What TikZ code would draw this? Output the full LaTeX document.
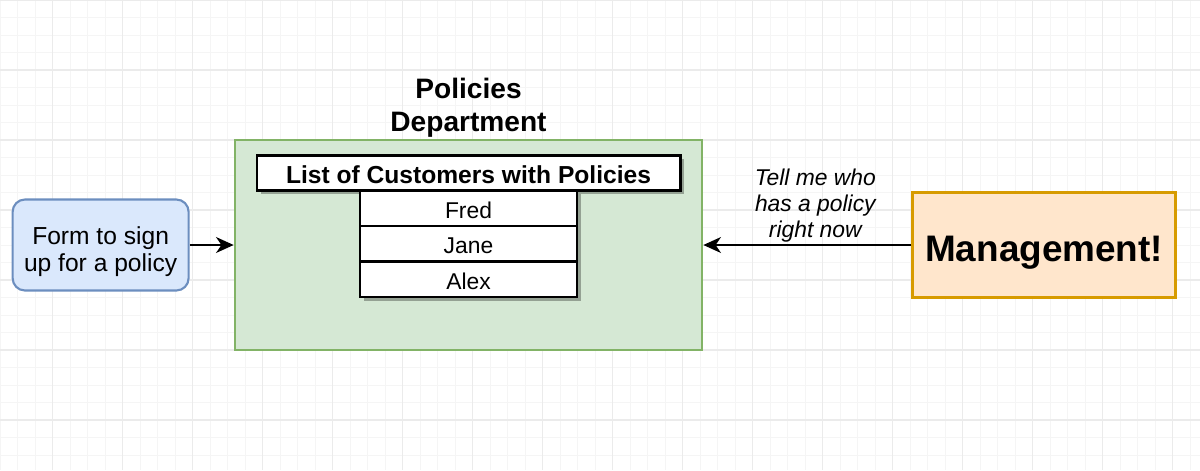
\documentclass[tikz,border=0pt]{standalone}
\usepackage{fontspec}
\setmainfont{Liberation Sans}
\usetikzlibrary{positioning, arrows.meta, shadows}

\definecolor{deptfill}{HTML}{D5E8D4}
\definecolor{deptline}{HTML}{82B366}
\definecolor{formfill}{HTML}{DAE8FC}
\definecolor{formline}{HTML}{6C8EBF}
\definecolor{mgmtfill}{HTML}{FFE6CC}
\definecolor{mgmtline}{HTML}{D79B00}

\begin{document}
\begin{tikzpicture}[auto, node distance=1cm, >={Stealth[length=10pt, width=9pt, inset=3pt]},
    row/.style={draw, line width=1.4pt, fill=white, outer sep=0pt, inner sep=0pt,
        minimum width=4.34cm, minimum height=0.71cm, text height=11.3pt, text depth=0pt,
        font=\fontsize{13}{15}\selectfont,
        drop shadow={shadow xshift=2pt, shadow yshift=-2pt, fill=black, opacity=0.3}},
    flow/.style={->, line width=1.2pt}]
    \useasboundingbox (0,0) rectangle (24,-9.4);
    % Grid
    \fill [white] (0,0) rectangle (24,-9.4);
    \draw [black!4, line width=0.5pt] (0,0) grid [step=0.35] (24,-9.4);
    \foreach \x in {1.05,2.45,...,23.5}
        \draw [black!8, line width=0.6pt] (\x,0) -- (\x,-9.4);
    \foreach \y in {0,-1.4,...,-9.3}
        \draw [black!8, line width=0.6pt] (0,\y) -- (24,\y);

    % Policies department
    \node [draw=deptline, fill=deptfill, line width=1.5pt, minimum width=9.34cm, minimum height=4.2cm] (dept) at (9.37,-4.9) {};
    \node [above=0.02cm of dept, inner sep=0pt, align=center, font=\bfseries\fontsize{16}{18.7}\selectfont] (title) {Policies\\Department};

    % List of customers
    \node [row, line width=1.7pt, minimum width=8.46cm, minimum height=0.7cm, text height=11.2pt, font=\bfseries\fontsize{14}{16}\selectfont, below=0.34cm of dept.north] (list) {List of Customers with Policies};
    \node [row, below=0cm of list] (fred) {Fred};
    \node [row, below=0cm of fred] (jane) {Jane};
    \node [row, below=0cm of jane] (alex) {Alex};

    % Form and management
    \node [draw=formline, fill=formfill, line width=1.2pt, rounded corners=7pt, minimum width=3.52cm, minimum height=1.82cm, align=center, font=\fontsize{14}{15.6}\selectfont, left=0.88cm of dept] (form) {\rule{0pt}{18pt}Form to sign\\up for a policy};
    \node [draw=mgmtline, fill=mgmtfill, line width=1.5pt, minimum width=5.26cm, minimum height=2.1cm, text height=19pt, text depth=0pt, font=\bfseries\fontsize{21}{25}\selectfont, right=4.16cm of dept] (mgmt) {Management!};

    % Connections
    \draw [flow] (form) -- (dept);
    \draw [flow] (mgmt) -- (dept) node [midway, above, xshift=0.16cm, yshift=-0.08cm, align=center, font=\itshape\fontsize{13}{14.7}\selectfont] {Tell me who\\has a policy\\right now};
\end{tikzpicture}
\end{document}
